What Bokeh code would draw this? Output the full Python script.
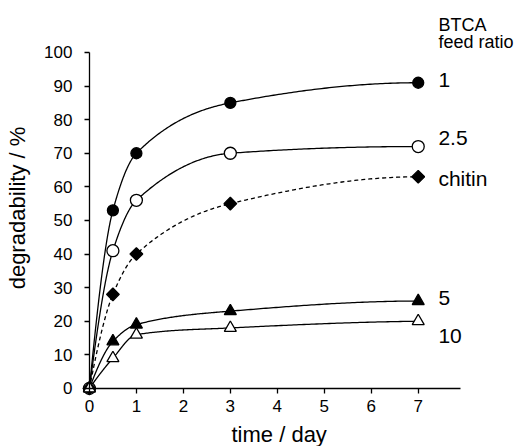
import numpy as np
from bokeh.plotting import figure
from bokeh.models import Range1d, LinearAxis, FixedTicker, Label
from bokeh.embed import file_html
from bokeh.resources import INLINE

# ---- data ----
days = [0, 0.5, 1, 3, 7]
btca_1 = [0, 53, 70, 85, 91]
btca_2_5 = [0, 41, 56, 70, 72]
chitin = [0, 28, 40, 55, 63]
btca_5 = [0, 14, 19, 23, 26]
btca_10 = [0, 9, 16, 18, 20]
series_names = ["1", "2.5", "chitin", "5", "10"]
x_ticks = [0, 1, 2, 3, 4, 5, 6, 7]
y_ticks = [0, 10, 20, 30, 40, 50, 60, 70, 80, 90, 100]
legend_title = ["BTCA", "feed ratio"]
x_title = "time / day"
y_title = "degradability / %"

FONT = "Liberation Sans"


def smooth(x, y, n=300):
    """Monotone cubic (Fritsch-Carlson) rendering of the line through the points."""
    x = np.asarray(x, float)
    y = np.asarray(y, float)
    h = np.diff(x)
    d = np.diff(y) / h
    m = np.zeros_like(y)
    for k in range(1, len(x) - 1):
        if d[k - 1] * d[k] > 0:
            w1 = 2 * h[k] + h[k - 1]
            w2 = h[k] + 2 * h[k - 1]
            m[k] = (w1 + w2) / (w1 / d[k - 1] + w2 / d[k])
    m0 = ((2 * h[0] + h[1]) * d[0] - h[0] * d[1]) / (h[0] + h[1])
    m[0] = m0 if m0 * d[0] > 0 else 0.0
    mn = ((2 * h[-1] + h[-2]) * d[-1] - h[-1] * d[-2]) / (h[-1] + h[-2])
    m[-1] = mn if mn * d[-1] > 0 else 0.0
    xs, ys = [], []
    for k in range(len(x) - 1):
        t = np.linspace(0, 1, n // (len(x) - 1), endpoint=(k == len(x) - 2))
        h00 = 2 * t**3 - 3 * t**2 + 1
        h10 = t**3 - 2 * t**2 + t
        h01 = -2 * t**3 + 3 * t**2
        h11 = t**3 - t**2
        xs.extend(x[k] + t * h[k])
        ys.extend(h00 * y[k] + h10 * h[k] * m[k] + h01 * y[k + 1] + h11 * h[k] * m[k + 1])
    return xs, ys


# the frame fills the whole page; the axes cross at the data origin
p = figure(width=515, height=446,
           x_range=Range1d(-1.893, 9.071), y_range=Range1d(-17.30, 115.48),
           x_axis_type=None, y_axis_type=None,
           output_backend="svg", toolbar_location=None,
           min_border_left=0, min_border_right=0,
           min_border_top=0, min_border_bottom=0)
p.outline_line_color = None
p.background_fill_color = "white"
p.border_fill_color = "white"

xaxis = LinearAxis(fixed_location=0, bounds=(0, 7.9), ticker=FixedTicker(ticks=x_ticks))
yaxis = LinearAxis(fixed_location=0, bounds=(0, 100), ticker=FixedTicker(ticks=y_ticks))
for ax in (xaxis, yaxis):
    ax.axis_line_color = "black"
    ax.axis_line_width = 1.3
    ax.major_tick_line_color = "black"
    ax.major_tick_line_width = 1.3
    ax.major_tick_in = 0
    ax.major_tick_out = 5
    ax.minor_tick_in = 0
    ax.minor_tick_out = 0
    ax.major_label_text_font = FONT
    ax.major_label_text_font_size = "17px"
    ax.major_label_text_color = "black"
xaxis.major_label_standoff = 7
yaxis.major_label_standoff = 12
p.add_layout(xaxis, "below")
p.add_layout(yaxis, "left")

LW = 1.3
series = [btca_1, btca_2_5, chitin, btca_5, btca_10]
dashes = ["solid", "solid", "4 3", "solid", "solid"]
markers = [("circle", 11, "black", 0), ("circle", 12, "white", 0),
           ("square", 9, "black", np.pi / 4), ("triangle", 12, "black", 0),
           ("triangle", 12, "white", 0)]

for vals, dash in zip(series, dashes):
    sx, sy = smooth(days, vals)
    p.line(sx, sy, line_color="black", line_width=LW, line_dash=dash)

for vals, (mk, sz, fill, ang) in zip(series, markers):
    p.scatter(days, vals, marker=mk, size=sz, fill_color=fill,
              line_color="black", line_width=1.3, angle=ang)

# series labels on the right
label_x = 7.43
label_y = [91.7, 74.4, 62.5, 26.8, 15.5]
for name, ly in zip(series_names, label_y):
    p.add_layout(Label(x=label_x, y=ly, text=name, text_font=FONT,
                       text_font_size="21px", text_color="black",
                       text_baseline="alphabetic", text_align="left"))

for txt, ly in zip(legend_title, [108.2, 103.2]):
    p.add_layout(Label(x=label_x, y=ly, text=txt, text_font=FONT,
                       text_font_size="18px", text_color="black",
                       text_baseline="alphabetic", text_align="left"))

# axis titles
p.add_layout(Label(x=4.04, y=-13.6, text=x_title, text_font=FONT,
                   text_font_size="22px", text_color="black",
                   text_baseline="alphabetic", text_align="center"))
p.add_layout(Label(x=-1.537, y=53.7, text=y_title, text_font=FONT,
                   text_font_size="22px", text_color="black", angle=np.pi / 2,
                   text_baseline="alphabetic", text_align="center"))

open("out.html", "w").write(file_html(p, INLINE))
